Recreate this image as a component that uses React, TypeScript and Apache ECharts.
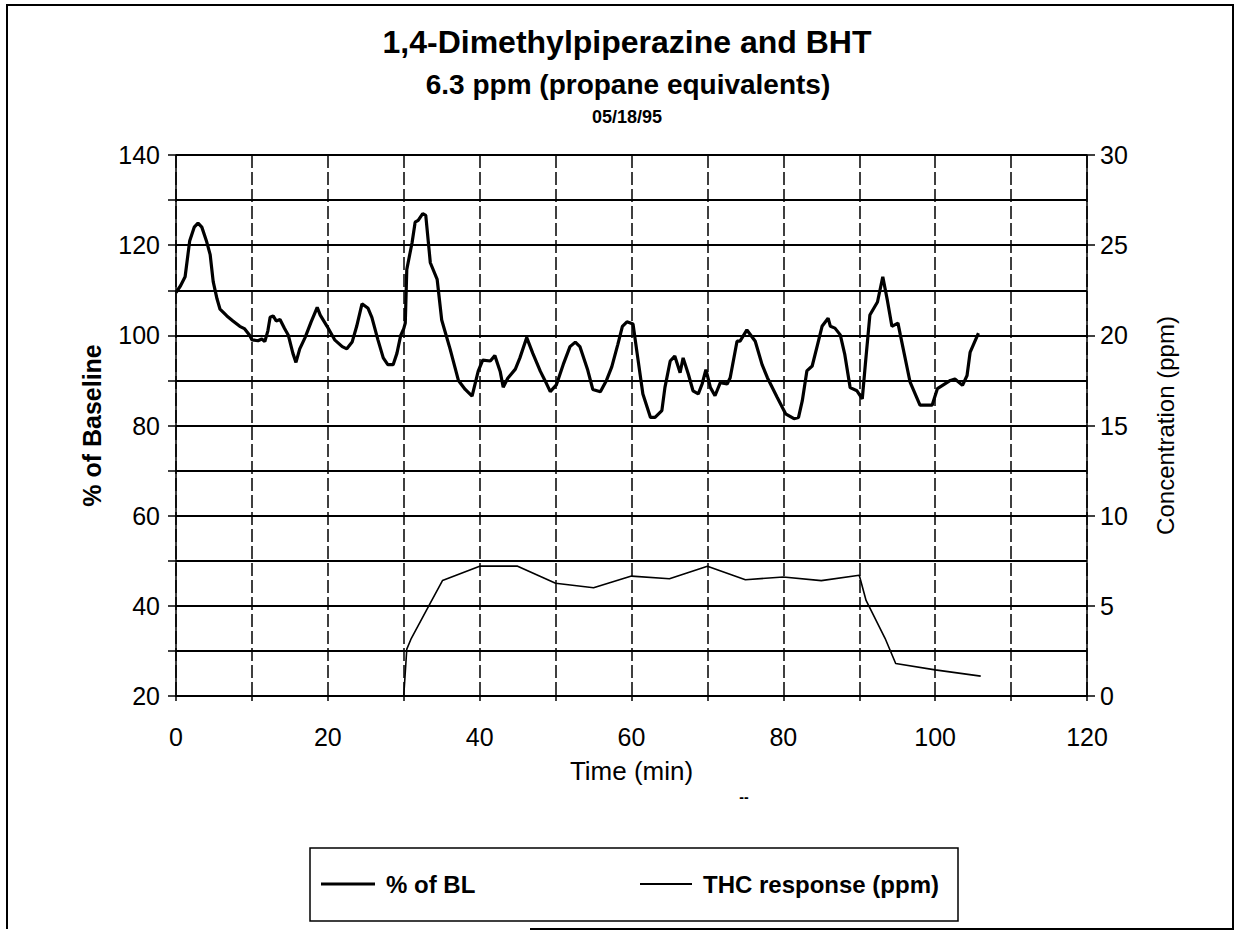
import React, { useEffect, useRef } from "react";
import * as echarts from "echarts";

const titleMain = "1,4-Dimethylpiperazine and BHT";
const titleSub = "6.3 ppm (propane equivalents)";
const titleDate = "05/18/95";
const xName = "Time (min)";
const yLeftName = "% of Baseline";
const yRightName = "Concentration (ppm)";
const blName = "% of BL";
const thcName = "THC response (ppm)";

// % of baseline (time in min, percent)
const blTime = [
  0.0, 0.6, 1.2, 1.8, 2.4, 2.9, 3.4, 4.0, 4.5, 4.9, 5.4, 5.8, 6.7, 7.5, 8.4, 9.0, 9.7, 10.0, 10.8, 11.3,
  11.7, 12.1, 12.4, 12.8, 13.2, 13.7, 14.3, 14.8, 15.4, 15.8, 16.3, 17.0, 17.8, 18.3, 18.6, 19.0, 19.9, 20.9, 21.9, 22.5,
  23.2, 23.8, 24.5, 25.3, 25.8, 26.6, 27.3, 27.9, 28.6, 29.1, 29.6, 30.0, 30.2, 30.4, 31.1, 31.5, 31.9, 32.5, 32.9, 33.5,
  34.4, 35.0, 36.1, 37.2, 38.1, 39.0, 39.8, 40.4, 41.4, 42.0, 42.7, 43.1, 43.7, 44.7, 45.3, 46.2, 47.0, 48.0, 48.6, 49.3,
  50.1, 51.0, 51.9, 52.6, 53.2, 54.2, 54.9, 55.9, 56.7, 57.4, 58.2, 58.8, 59.4, 60.2, 60.7, 61.5, 62.5, 63.1, 64.0, 64.4,
  65.1, 65.7, 66.4, 66.8, 67.5, 68.1, 68.8, 69.3, 69.8, 70.4, 71.0, 71.7, 72.6, 73.0, 73.9, 74.3, 75.2, 76.3, 77.2, 77.9,
  79.2, 80.3, 81.4, 82.0, 82.5, 83.1, 83.8, 84.5, 85.1, 85.9, 86.2, 86.8, 87.5, 88.1, 88.8, 89.7, 90.4, 90.8, 91.4, 92.4,
  93.1, 93.7, 94.3, 95.1, 95.4, 96.7, 98.0, 99.6, 100.3, 102.0, 102.6, 103.6, 104.2, 104.6, 105.7,
];
const blValue = [
  109.5, 111, 113, 120.9, 124, 124.9, 124, 121, 117.9, 111.9, 108.1, 105.8, 104.3, 103.2, 102, 101.5, 100, 99, 98.8, 99.2,
  98.6, 101, 104, 104.3, 103.2, 103.5, 101.5, 100, 96, 94, 97, 99.5, 103, 105, 106.2, 104.5, 102, 99, 97.5, 97,
  98.5, 102, 107, 106, 104, 99, 95, 93.5, 93.5, 96, 100, 101.5, 102.7, 114.6, 120.6, 125.1, 125.5, 127.0, 126.6, 116.1,
  112.4, 103.4, 97, 90, 88, 86.5, 92, 94.5, 94.3, 95.5, 92, 88.5, 90.5, 92.5, 95, 99.5, 96, 92, 90, 87.5,
  89, 93.5, 97.5, 98.5, 97.5, 92.5, 88, 87.5, 90, 93, 98, 102, 103, 102.5, 96.5, 87.0, 81.8, 81.8, 83.3, 88.4,
  94.3, 95.4, 91.7, 95.0, 91.3, 87.7, 87.0, 89.2, 92.4, 88.4, 86.6, 89.5, 89.2, 90.6, 98.7, 98.7, 101.2, 98.7, 93.5, 90.6,
  86.2, 82.6, 81.5, 81.8, 85.5, 92.1, 93.2, 97.9, 102.0, 103.8, 102.0, 101.6, 100.1, 95.7, 88.4, 87.7, 85.9, 93.5, 104.5, 107.4,
  113, 107.8, 102.0, 102.7, 100.2, 89.6, 84.5, 84.5, 88.2, 90.0, 90.3, 88.9, 91.1, 96.2, 100.5,
];

// THC response (time in min, ppm)
const thcTime = [30.0, 30.4, 31.0, 33.3, 35.1, 40, 45, 50, 55, 60, 65, 70, 75, 80, 85, 90, 90.9, 93.4, 94.8, 100, 106];
const thcValue = [0, 2.6, 3.2, 5.0, 6.4, 7.2, 7.2, 6.25, 6.0, 6.65, 6.5, 7.2, 6.45, 6.6, 6.4, 6.7, 5.3, 3.2, 1.8, 1.45, 1.1];

const FONT = "'Liberation Sans', Arial, Helvetica, sans-serif";

export default function App() {
  const ref = useRef<HTMLDivElement>(null);

  useEffect(() => {
    if (!ref.current) return;
    const chart = echarts.init(ref.current, null, { renderer: "svg" });
    const blData = blTime.map((t, i) => [t, blValue[i]]);
    const thcData = thcTime.map((t, i) => [t, thcValue[i]]);

    chart.setOption({
      animation: false,
      backgroundColor: "#ffffff",
      textStyle: { fontFamily: FONT, color: "#000" },
      grid: { left: 176, right: 154, top: 155, bottom: 239, containLabel: false },
      xAxis: {
        type: "value",
        min: 0,
        max: 120,
        interval: 10,
        name: xName,
        nameLocation: "middle",
        nameGap: 62,
        nameTextStyle: { fontSize: 26, color: "#000", fontFamily: FONT },
        axisLine: { show: true, lineStyle: { color: "#000", width: 2 } },
        axisTick: { show: true, length: 5, lineStyle: { color: "#000", width: 1.5 } },
        axisLabel: {
          fontSize: 25,
          color: "#000",
          fontFamily: FONT,
          margin: 28,
          formatter: (v: number) => (v % 20 === 0 ? String(v) : ""),
        },
        splitLine: { show: true, lineStyle: { color: "#000", width: 1.5, type: [13, 4] } },
      },
      yAxis: [
        {
          type: "value",
          position: "left",
          min: 20,
          max: 140,
          interval: 10,
          name: yLeftName,
          nameLocation: "middle",
          nameGap: 72,
          nameTextStyle: { fontSize: 25, fontWeight: "bold", color: "#000", fontFamily: FONT },
          axisLine: { show: true, lineStyle: { color: "#000", width: 1.5 } },
          axisTick: { show: true, length: 8, lineStyle: { color: "#000", width: 1.5 } },
          axisLabel: {
            fontSize: 25,
            color: "#000",
            fontFamily: FONT,
            margin: 16,
            formatter: (v: number) => (v % 20 === 0 ? String(v) : ""),
          },
          splitLine: { show: true, lineStyle: { color: "#000", width: 2 } },
        },
        {
          type: "value",
          position: "right",
          min: 0,
          max: 30,
          interval: 5,
          name: yRightName,
          nameLocation: "middle",
          nameGap: 66,
          nameTextStyle: { fontSize: 24, color: "#000", fontFamily: FONT },
          axisLine: { show: true, lineStyle: { color: "#000", width: 1.5 } },
          axisTick: { show: true, length: 8, lineStyle: { color: "#000", width: 1.5 } },
          axisLabel: { fontSize: 25, color: "#000", fontFamily: FONT, margin: 13 },
          splitLine: { show: false },
        },
      ],
      graphic: [
        {
          type: "text",
          x: 627,
          y: 42,
          style: {
            text: titleMain,
            font: `bold 32px ${FONT}`,
            fill: "#000",
            textAlign: "center",
            textVerticalAlign: "middle",
          },
        },
        {
          type: "text",
          x: 628,
          y: 84,
          style: {
            text: titleSub,
            font: `bold 28px ${FONT}`,
            fill: "#000",
            textAlign: "center",
            textVerticalAlign: "middle",
          },
        },
        {
          type: "text",
          x: 627,
          y: 117,
          style: {
            text: titleDate,
            font: `bold 18px ${FONT}`,
            fill: "#000",
            textAlign: "center",
            textVerticalAlign: "middle",
          },
        },
        {
          type: "text",
          x: 744,
          y: 797,
          style: { text: "--", font: `bold 14px ${FONT}`, fill: "#000", textAlign: "center", textVerticalAlign: "middle" },
        },
        {
          type: "rect",
          shape: { x: 310, y: 848, width: 648, height: 73 },
          style: { fill: "none", stroke: "#000", lineWidth: 1.5 },
        },
        {
          type: "line",
          shape: { x1: 321, y1: 884, x2: 375, y2: 884 },
          style: { stroke: "#000", lineWidth: 3.2 },
        },
        {
          type: "text",
          x: 386,
          y: 884,
          style: { text: blName, font: `bold 24px ${FONT}`, fill: "#000", textAlign: "left", textVerticalAlign: "middle" },
        },
        {
          type: "line",
          shape: { x1: 640, y1: 884, x2: 692, y2: 884 },
          style: { stroke: "#000", lineWidth: 2 },
        },
        {
          type: "text",
          x: 703,
          y: 884,
          style: { text: thcName, font: `bold 24px ${FONT}`, fill: "#000", textAlign: "left", textVerticalAlign: "middle" },
        },
        {
          type: "polyline",
          shape: { points: [[7, 929], [7, 5], [1233, 5], [1233, 929], [530, 929]] },
          style: { fill: "none", stroke: "#000", lineWidth: 2 },
        },
      ],
      series: [
        {
          name: blName,
          type: "line",
          yAxisIndex: 0,
          data: blData,
          showSymbol: false,
          symbol: "none",
          smooth: false,
          lineStyle: { color: "#000", width: 3.2 },
          itemStyle: { color: "#000" },
          z: 5,
        },
        {
          name: thcName,
          type: "line",
          yAxisIndex: 1,
          data: thcData,
          showSymbol: false,
          symbol: "none",
          smooth: false,
          lineStyle: { color: "#000", width: 1.6 },
          itemStyle: { color: "#000" },
          z: 4,
        },
      ],
    });

    return () => chart.dispose();
  }, []);

  return (
    <div
      ref={ref}
      style={{ position: "fixed", left: 0, top: 0, width: 1241, height: 935, background: "#fff" }}
    />
  );
}
